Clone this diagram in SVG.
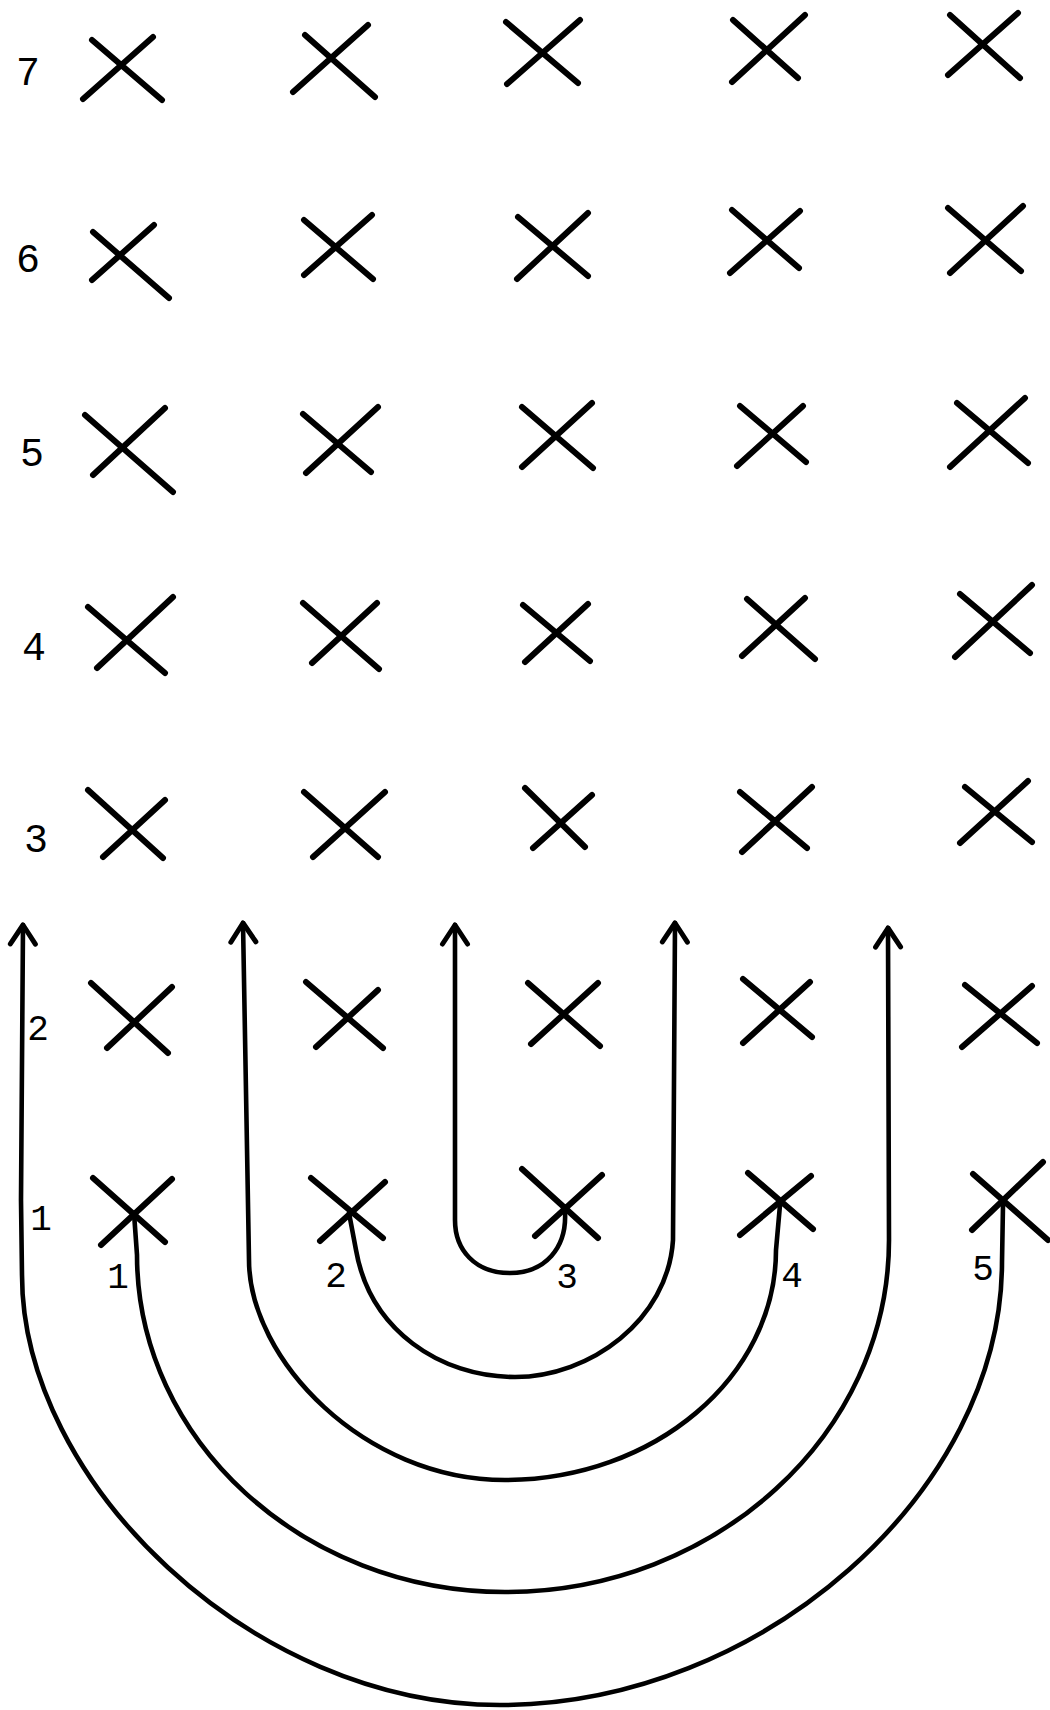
<svg xmlns="http://www.w3.org/2000/svg" width="1050" height="1710" viewBox="0 0 1050 1710">
<style>
.x path{stroke:#000;stroke-width:6;stroke-linecap:round;fill:none}
.conn path{stroke:#000;stroke-width:4.6;fill:none;stroke-linecap:round;stroke-linejoin:round;marker-end:url(#arrow)}
.lbl{font-family:"Liberation Mono","DejaVu Sans Mono",monospace;fill:#000;text-anchor:middle}
.rl{font-size:40px}
.sl{font-size:36px}
</style>
<defs>
<marker id="arrow" markerUnits="userSpaceOnUse" viewBox="-26 -18 30 36" markerWidth="30" markerHeight="36" refX="0" refY="0" orient="auto">
<path d="M-19,-12.5 L0,0 L-19,12.5" fill="none" stroke="#000" stroke-width="5" stroke-linecap="round" stroke-linejoin="round"/>
</marker>
</defs>
<rect width="1050" height="1710" fill="#fff"/>

<g id="row-labels">
<text class="lbl rl" x="28" y="85">7</text>
<text class="lbl rl" x="28" y="272">6</text>
<text class="lbl rl" x="32" y="466">5</text>
<text class="lbl rl" x="34" y="660">4</text>
<text class="lbl rl" x="36" y="852">3</text>
<text class="lbl sl" x="38" y="1040">2</text>
<text class="lbl sl" x="41" y="1230">1</text>
</g>

<g id="r7c1" class="x"><path d="M92,40 L162,100 M83,99 L153,37"/></g>
<g id="r7c2" class="x"><path d="M305,35 L375,97 M293,92 L368,25"/></g>
<g id="r7c3" class="x"><path d="M506,22 L578,83 M507,84 L580,20"/></g>
<g id="r7c4" class="x"><path d="M733,20 L798,78 M732,82 L805,15"/></g>
<g id="r7c5" class="x"><path d="M950,15 L1020,78 M948,75 L1018,13"/></g>

<g id="r6c1" class="x"><path d="M93,232 L169,298 M92,280 L154,225"/></g>
<g id="r6c2" class="x"><path d="M304,220 L373,279 M304,275 L372,215"/></g>
<g id="r6c3" class="x"><path d="M518,217 L588,276 M517,279 L588,213"/></g>
<g id="r6c4" class="x"><path d="M732,210 L799,268 M730,273 L800,211"/></g>
<g id="r6c5" class="x"><path d="M948,208 L1021,271 M950,273 L1023,206"/></g>

<g id="r5c1" class="x"><path d="M85,415 L173,492 M93,475 L165,408"/></g>
<g id="r5c2" class="x"><path d="M303,414 L371,472 M306,473 L378,407"/></g>
<g id="r5c3" class="x"><path d="M522,407 L593,468 M522,467 L592,403"/></g>
<g id="r5c4" class="x"><path d="M740,406 L806,462 M737,466 L803,406"/></g>
<g id="r5c5" class="x"><path d="M957,403 L1028,463 M950,467 L1025,398"/></g>

<g id="r4c1" class="x"><path d="M88,607 L165,673 M97,668 L173,597"/></g>
<g id="r4c2" class="x"><path d="M303,603 L379,669 M312,663 L377,603"/></g>
<g id="r4c3" class="x"><path d="M523,605 L590,661 M525,662 L588,604"/></g>
<g id="r4c4" class="x"><path d="M747,599 L815,659 M742,656 L805,598"/></g>
<g id="r4c5" class="x"><path d="M960,594 L1030,653 M955,657 L1032,585"/></g>

<g id="r3c1" class="x"><path d="M88,790 L163,858 M103,857 L165,800"/></g>
<g id="r3c2" class="x"><path d="M304,792 L378,857 M313,857 L385,792"/></g>
<g id="r3c3" class="x"><path d="M525,788 L585,847 M533,848 L592,795"/></g>
<g id="r3c4" class="x"><path d="M740,792 L807,848 M742,852 L812,787"/></g>
<g id="r3c5" class="x"><path d="M965,787 L1032,842 M960,843 L1028,781"/></g>

<g id="r2c1" class="x"><path d="M91,983 L168,1053 M107,1048 L172,987"/></g>
<g id="r2c2" class="x"><path d="M306,982 L383,1048 M316,1047 L378,990"/></g>
<g id="r2c3" class="x"><path d="M528,983 L600,1046 M531,1044 L598,983"/></g>
<g id="r2c4" class="x"><path d="M743,979 L812,1037 M743,1043 L810,982"/></g>
<g id="r2c5" class="x"><path d="M965,985 L1037,1043 M962,1047 L1032,986"/></g>

<g id="r1c1" class="x"><path d="M93,1178 L165,1242 M101,1245 L172,1179"/></g>
<g id="r1c2" class="x"><path d="M311,1178 L383,1238 M320,1241 L385,1182"/></g>
<g id="r1c3" class="x"><path d="M522,1169 L598,1238 M535,1236 L602,1175"/></g>
<g id="r1c4" class="x"><path d="M748,1173 L813,1229 M740,1235 L811,1176"/></g>
<g id="r1c5" class="x"><path d="M973,1174 L1048,1240 M972,1230 L1043,1162"/></g>

<g id="connectors" class="conn">
<path id="path-5" d="M1003,1205 L1002,1262 C1002,1492 761,1705 500,1705 C251,1705 22,1481 22,1275 L21,1200 L23,925"/>
<path id="path-1" d="M134,1213 L137,1255 C137,1440 303,1592 505,1592 C716,1592 889,1434 889,1240 L888,928"/>
<path id="path-4" d="M780,1205 L776,1250 C776,1377 654,1480 505,1480 C364,1480 249,1359 249,1260 L243,923"/>
<path id="path-2" d="M349,1213 L356,1250 C370,1330 440,1377 515,1377 C590,1377 668,1320 673,1240 L675,923"/>
<path id="path-3" d="M565,1212 C567,1248 545,1273 510,1273 C475,1273 455,1250 455,1220 L455,925"/>
</g>

<g id="path-labels">
<text class="lbl sl" x="118" y="1288">1</text>
<text class="lbl sl" x="336" y="1287">2</text>
<text class="lbl sl" x="567" y="1288">3</text>
<text class="lbl sl" x="792" y="1287">4</text>
<text class="lbl sl" x="983" y="1280">5</text>
</g>
</svg>
